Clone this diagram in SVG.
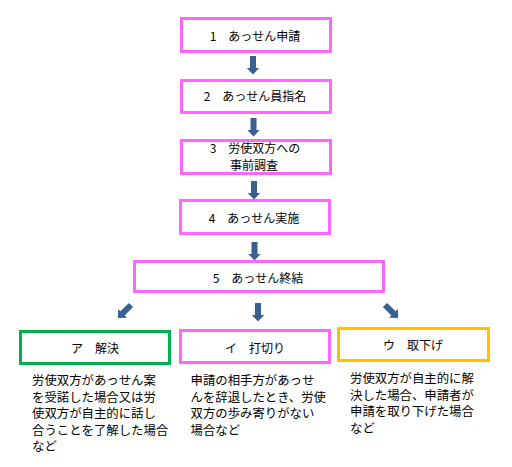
<svg xmlns="http://www.w3.org/2000/svg" xmlns:xlink="http://www.w3.org/1999/xlink" width="512" height="467" viewBox="0 0 512 467">
<style>
.box{fill:#fff;stroke-width:3}
.pink{stroke:#FF66FF}
.green{stroke:#00B050}
.orange{stroke:#FFC000}
text{font-family:"Noto Sans CJK JP","Noto Sans",sans-serif;fill:#000}
.t{font-size:12px;text-anchor:middle}
.d{font-size:12.4px}
.arr{fill:#386192}
</style>
<defs>
<path id="ar" d="M-3,0 L3,0 L3,12 L6.2,12 L0,18.5 L-6.2,12 L-3,12 Z"/>
</defs>
<rect width="512" height="467" fill="#fff"/>
<g id="connectors" class="arr">
<use xlink:href="#ar" transform="translate(253,56)"/>
<use xlink:href="#ar" transform="translate(253.5,118)"/>
<use xlink:href="#ar" transform="translate(254,181)"/>
<use xlink:href="#ar" transform="translate(254.5,242)"/>
<use xlink:href="#ar" transform="translate(258,303)"/>
<use xlink:href="#ar" transform="translate(131,305) rotate(45)"/>
<use xlink:href="#ar" transform="translate(385,305) rotate(-45)"/>
</g>
<g id="n1"><rect class="box pink" x="181.5" y="18.5" width="149" height="33"/><text class="t" x="255" y="40.5">1　あっせん申請</text></g>
<g id="n2"><rect class="box pink" x="181.5" y="80.5" width="149" height="32"/><text class="t" x="255" y="101">2　あっせん員指名</text></g>
<g id="n3"><rect class="box pink" x="181.5" y="140.5" width="149" height="33"/><text class="t" x="255" y="152.5">3　労使双方への</text><text class="t" x="254" y="169.5">事前調査</text></g>
<g id="n4"><rect class="box pink" x="180.5" y="200.5" width="149" height="33"/><text class="t" x="254" y="223">4　あっせん実施</text></g>
<g id="n5"><rect class="box pink" x="134.5" y="261.5" width="249" height="30"/><text class="t" x="258" y="283">5　あっせん終結</text></g>
<g id="na"><rect class="box green" x="20.5" y="331.5" width="149" height="32"/><text class="t" x="95" y="353">ア　解決</text>
<text class="d" x="32" y="385">労使双方があっせん案</text>
<text class="d" x="32" y="401.5">を受諾した場合又は労</text>
<text class="d" x="32" y="418">使双方が自主的に話し</text>
<text class="d" x="32" y="434.5">合うことを了解した場合</text>
<text class="d" x="32" y="451">など</text></g>
<g id="ni"><rect class="box pink" x="180.5" y="330.5" width="149" height="32"/><text class="t" x="255" y="352.5">イ　打切り</text>
<text class="d" x="190.5" y="385">申請の相手方があっせ</text>
<text class="d" x="190.5" y="401.5">んを辞退したとき、労使</text>
<text class="d" x="190.5" y="418">双方の歩み寄りがない</text>
<text class="d" x="190.5" y="434.5">場合など</text></g>
<g id="nu"><rect class="box orange" x="338.5" y="328.5" width="150" height="32"/><text class="t" x="413" y="349.5">ウ　取下げ</text>
<text class="d" x="350" y="383">労使双方が自主的に解</text>
<text class="d" x="350" y="399.5">決した場合、申請者が</text>
<text class="d" x="350" y="416">申請を取り下げた場合</text>
<text class="d" x="350" y="432.5">など</text></g>
</svg>
